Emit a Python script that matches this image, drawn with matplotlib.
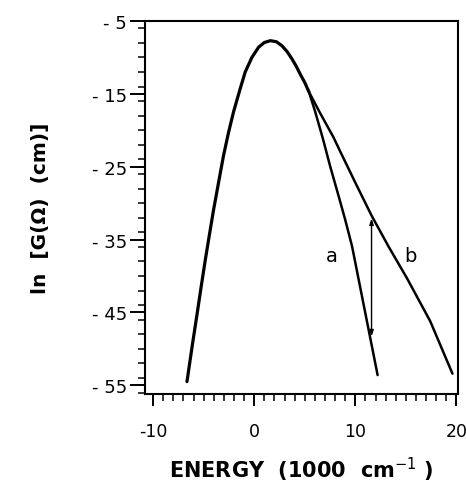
import matplotlib
matplotlib.use("Agg")
import matplotlib.pyplot as plt
from matplotlib.ticker import MultipleLocator

# Data
common_x = [-6.65, -6.1, -5.67, -5.25, -4.85, -4.45, -4.03, -3.53, -3.04, -2.54, -2.05, -1.39,
            -0.89, -0.23, 0.43, 1.0, 1.6, 2.2, 2.74, 3.25, 3.73, 4.15, 4.55, 5.0, 5.4]
common_y = [-54.5, -49.3, -45.4, -41.5, -37.9, -34.5, -31.0, -27.2, -23.5, -20.3, -17.5, -14.3,
            -12.0, -10.0, -8.6, -7.95, -7.7, -7.85, -8.4, -9.2, -10.2, -11.2, -12.3, -13.45, -14.7]

a_x = [5.4, 6.04, 6.8, 7.5, 8.4, 9.0, 9.67, 10.4, 11.4, 12.2]
a_y = [-14.7, -17.5, -21.2, -24.9, -29.3, -32.3, -35.9, -41.0, -48.0, -53.6]

b_x = [5.4, 6.5, 7.85, 8.5, 10.0, 11.6, 13.3, 15.1, 17.4, 19.6]
b_y = [-14.7, -17.6, -21.0, -22.9, -27.2, -31.7, -36.0, -40.3, -46.2, -53.4]

arrow_x = 11.6
arrow_y = [-32.1, -48.3]

label_a = (7.7, -37.2)
label_b = (15.4, -37.2)

xticks = [-10, 0, 10, 20]
xticklabels = ["-10", "0", "10", "20"]
yticks = [-5, -15, -25, -35, -45, -55]
yticklabels = ["- 5", "- 15", "- 25", "- 35", "- 45", "- 55"]

fig = plt.figure(figsize=(4.66, 4.89), dpi=100)
ax = fig.add_axes([145/466, 1-395/489, (457.5-145)/466, (395-22)/489])

ax.plot(common_x, common_y, color="black", lw=2.3, solid_capstyle="round", solid_joinstyle="round")
ax.plot(a_x, a_y, color="black", lw=1.8, solid_capstyle="round", solid_joinstyle="round")
ax.plot(b_x, b_y, color="black", lw=1.8, solid_capstyle="round", solid_joinstyle="round")

ax.annotate("", xy=(arrow_x, arrow_y[0]), xytext=(arrow_x, arrow_y[1]),
            arrowprops=dict(arrowstyle="<|-|>,head_length=0.35,head_width=0.12",
                            color="black", lw=1.0, shrinkA=0, shrinkB=0))

ax.text(*label_a, "a", fontsize=14, ha="center", va="center")
ax.text(*label_b, "b", fontsize=14, ha="center", va="center")

ax.set_xlim(-10.8, 20.1)
ax.set_ylim(-56.2, -5)

ax.set_xticks(xticks)
ax.set_xticklabels(xticklabels, fontsize=12.5)
ax.set_yticks(yticks)
ax.set_yticklabels(yticklabels, fontsize=13)
ax.xaxis.set_minor_locator(MultipleLocator(1))
ax.yaxis.set_minor_locator(MultipleLocator(2))

ax.tick_params(axis="x", which="major", direction="out", length=8.5, width=1.4, pad=12)
ax.tick_params(axis="x", which="minor", direction="out", length=5, width=1.1)
ax.tick_params(axis="y", which="major", direction="out", length=11, width=1.4, pad=2)
ax.tick_params(axis="y", which="minor", direction="out", length=5, width=1.1)

for s in ax.spines.values():
    s.set_linewidth(1.5)

ax.set_xlabel("ENERGY  (1000  cm$^{-1}$ )", fontsize=15, fontweight="bold", labelpad=10)
ax.set_ylabel("ln  [G(\u03a9)  (cm)]", fontsize=14.5, fontweight="bold", labelpad=30)

fig.savefig("out.png", dpi=100)
